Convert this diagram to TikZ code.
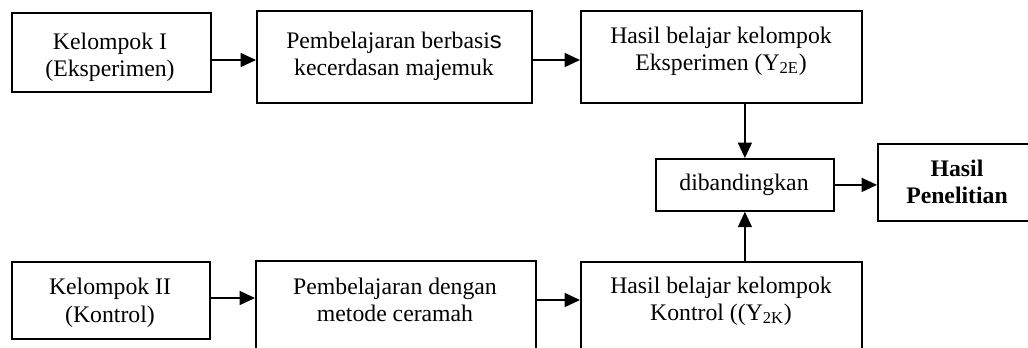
\documentclass[tikz,border=0pt]{standalone}
\usepackage{fontspec}
\setmainfont{Liberation Serif}
\newfontfamily\sansS{Liberation Sans}
\usetikzlibrary{arrows.meta}
\tikzset{
  box/.style={draw=black, line width=1.35pt, fill=white, inner sep=0pt, anchor=north west},
  txt/.style={anchor=base, inner sep=0pt, font=\fontsize{17.8pt}{20pt}\selectfont},
  btxt/.style={txt, font=\fontsize{17.8pt}{20pt}\selectfont\bfseries},
  arr/.style={line width=1pt, -{Triangle[length=11.5pt,width=10.5pt]}}
}
\begin{document}
\begin{tikzpicture}[x=0.75pt, y=-0.75pt]
\useasboundingbox (0,0) rectangle (1028,347);
\clip (0,0) rectangle (1028,347);
% boxes
\node[box, minimum width=199*0.75pt, minimum height=79*0.75pt] (b1) at (11,12) {};
\node[box, minimum width=275*0.75pt, minimum height=92*0.75pt] (b2) at (256,10) {};
\node[box, minimum width=281*0.75pt, minimum height=92*0.75pt] (b3) at (580,10) {};
\node[box, minimum width=178*0.75pt, minimum height=52*0.75pt] (dib) at (655,158) {};
\node[box, minimum width=152*0.75pt, minimum height=77*0.75pt] (hp) at (877,143) {};
\node[box, minimum width=198*0.75pt, minimum height=77*0.75pt] (b4) at (11,261) {};
\node[box, minimum width=280*0.75pt, minimum height=100*0.75pt] (b5) at (255,260) {};
\node[box, minimum width=281*0.75pt, minimum height=100*0.75pt] (b6) at (580,261) {};
% texts
\node[txt] (t1a) at (110,49) {Kelompok I};
\node[txt] (t1b) at (110,76) {(Eksperimen)};
\node[txt] (t2a) at (394,48) {Pembelajaran berbasi{\sansS s}};
\node[txt] (t2b) at (394,75) {kecerdasan majemuk};
\node[txt] (t3a) at (721,43) {Hasil belajar kelompok};
\node[txt] (t3b) at (721,70) {Eksperimen (Y\textsubscript{2E})};
\node[txt] (td) at (744,190) {dibandingkan};
\node[btxt] (t4a) at (957,176) {Hasil};
\node[btxt] (t4b) at (957,203) {Penelitian};
\node[txt] (t5a) at (110,294) {Kelompok II};
\node[txt] (t5b) at (110,322) {(Kontrol)};
\node[txt] (t6a) at (395,294) {Pembelajaran dengan};
\node[txt] (t6b) at (395,321) {metode ceramah};
\node[txt] (t7a) at (721,293) {Hasil belajar kelompok};
\node[txt] (t7b) at (721,320) {Kontrol ((Y\textsubscript{2K})};
% connectors
\draw[arr] (b1.east |- 0,60) -- (b2.west |- 0,60);
\draw[arr] (b2.east |- 0,60) -- (b3.west |- 0,60);
\draw[arr] (dib.north |- b3.south) -- (dib.north);
\draw[arr] (dib.south |- b6.north) -- (dib.south);
\draw[arr] (dib.east) -- (hp.west |- dib.east);
\draw[arr] (b4.east |- 0,298) -- (b5.west |- 0,298);
\draw[arr] (b5.east |- 0,300) -- (b6.west |- 0,300);
\end{tikzpicture}
\end{document}
